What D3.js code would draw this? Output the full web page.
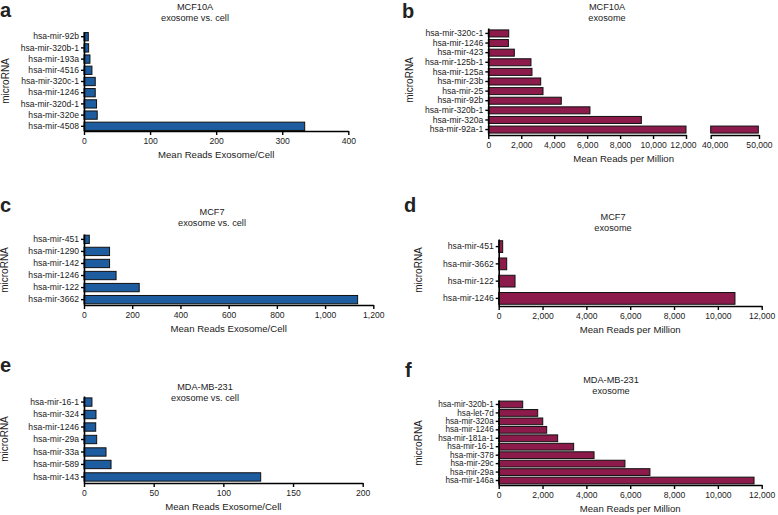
<!DOCTYPE html>
<html>
<head>
<meta charset="utf-8">
<script src="https://cdn.jsdelivr.net/npm/d3@7"></script>
<style>
body { margin: 0; background: #fff; }
text { font-family: "Liberation Sans", Arial, sans-serif; fill: #222; }
</style>
</head>
<body>
<svg id="chart" width="778" height="515"></svg>
<script>
// data, top to bottom as in the figure
var aLabels = ["hsa-mir-92b", "hsa-mir-320b-1", "hsa-mir-193a", "hsa-mir-4516", "hsa-mir-320c-1", "hsa-mir-1246", "hsa-mir-320d-1", "hsa-mir-320e", "hsa-mir-4508"];
var aValues = [6.5, 7, 9, 12, 17, 17, 19, 20, 334];

var bLabels = ["hsa-mir-320c-1", "hsa-mir-1246", "hsa-mir-423", "hsa-mir-125b-1", "hsa-mir-125a", "hsa-mir-23b", "hsa-mir-25", "hsa-mir-92b", "hsa-mir-320b-1", "hsa-mir-320a", "hsa-mir-92a-1"];
var bValues = [1240, 1220, 1580, 2590, 2650, 3180, 3320, 4430, 6170, 9290, 49860];

var cLabels = ["hsa-mir-451", "hsa-mir-1290", "hsa-mir-142", "hsa-mir-1246", "hsa-mir-122", "hsa-mir-3662"];
var cValues = [22, 106, 106, 133, 229, 1135];

var dLabels = ["hsa-mir-451", "hsa-mir-3662", "hsa-mir-122", "hsa-mir-1246"];
var dValues = [182, 365, 745, 10780];

var eLabels = ["hsa-mir-16-1", "hsa-mir-324", "hsa-mir-1246", "hsa-mir-29a", "hsa-mir-33a", "hsa-mir-589", "hsa-mir-143"];
var eValues = [5.7, 8.6, 8.4, 9.1, 15.8, 19.4, 126.8];

var fLabels = ["hsa-mir-320b-1", "hsa-let-7d", "hsa-mir-320a", "hsa-mir-1246", "hsa-mir-181a-1", "hsa-mir-16-1", "hsa-mir-378", "hsa-mir-29c", "hsa-mir-29a", "hsa-mir-146a"];
var fValues = [1095, 1780, 2010, 2190, 2690, 3420, 4350, 5760, 6900, 11650];

var ticks400 = [0, 100, 200, 300, 400];
var ticks1200 = [0, 200, 400, 600, 800, 1000, 1200];
var ticks200 = [0, 50, 100, 150, 200];
var ticks12k = [0, 2000, 4000, 6000, 8000, 10000, 12000];
var ticksHigh = [40000, 50000];

var blue = "#1d5c9f", maroon = "#8c1a4b";
var svg = d3.select("#chart");

function styleAxis(g, fs) {
	g.selectAll(".domain").attr("stroke", "#000").attr("stroke-width", 1.6);
	g.selectAll(".tick line").attr("stroke", "#000").attr("stroke-width", 1.4);
	g.selectAll(".tick text").style("font-size", (fs || 8.6) + "px").attr("fill", "#222");
}

function drawPanel(p) {
	var y = d3.scaleBand().domain(p.labels).range([p.yTop, p.yBot])
		.paddingInner(p.pin).paddingOuter(p.pout);
	var x = d3.scaleLinear().domain([0, p.ticks[p.ticks.length - 1]]).range([p.x0, p.x1]);
	var fmt = p.comma ? d3.format(",") : d3.format("d");

	svg.selectAll(null).data(p.values).enter().append("rect")
		.attr("x", x(0))
		.attr("y", function(d, i) { return y(p.labels[i]); })
		.attr("width", function(d) { return x(Math.min(d, x.domain()[1])) - x(0); })
		.attr("height", y.bandwidth())
		.attr("fill", p.color)
		.attr("stroke", "#111")
		.attr("stroke-width", 1);

	var xa = svg.append("g").attr("transform", "translate(0," + p.yBot + ")")
		.call(d3.axisBottom(x).tickValues(p.ticks).tickFormat(fmt).tickSize(4).tickSizeOuter(0).tickPadding(3));
	styleAxis(xa);

	if (p.high) {
		// broken axis: second segment for the one very large value
		var x2 = d3.scaleLinear().domain([p.high[0], p.high[p.high.length - 1]]).range([p.bx0, p.bx1]);
		svg.selectAll(null).data(p.values.filter(function(d) { return d > p.high[0]; })).enter().append("rect")
			.attr("x", x2(p.high[0]))
			.attr("y", function(d) { return y(p.labels[p.values.indexOf(d)]); })
			.attr("width", function(d) { return x2(d) - x2(p.high[0]); })
			.attr("height", y.bandwidth())
			.attr("fill", p.color)
			.attr("stroke", "#111")
			.attr("stroke-width", 1);
		var xb = svg.append("g").attr("transform", "translate(0," + p.yBot + ")")
			.call(d3.axisBottom(x2).tickValues(p.high).tickFormat(fmt).tickSize(4).tickSizeOuter(0).tickPadding(3));
		styleAxis(xb);
		xa.selectAll(".tick text").filter(function(d) { return d === 12000; }).attr("dx", -3);
		xb.selectAll(".tick text").filter(function(d) { return d === 40000; }).attr("dx", 4);
	}

	var ya = svg.append("g").attr("transform", "translate(" + p.x0 + ",0)")
		.call(d3.axisLeft(y).tickSize(3).tickSizeOuter(0).tickPadding(2));
	styleAxis(ya, p.yfs);

	svg.append("text").attr("x", p.tx).attr("y", p.ty).attr("text-anchor", "middle")
		.style("font-size", "9.2px").text(p.title[0]);
	svg.append("text").attr("x", p.tx).attr("y", p.ty + 10.5).attr("text-anchor", "middle")
		.style("font-size", "9.2px").text(p.title[1]);

	var axisEnd = p.high ? p.bx1 : p.x1;
	svg.append("text").attr("x", (p.x0 + axisEnd) / 2).attr("y", p.yBot + 27).attr("text-anchor", "middle")
		.style("font-size", "9.6px").text(p.xTitle);

	svg.append("text").attr("transform", "translate(" + (p.mx + 3.5) + "," + p.my + ") rotate(-90)")
		.attr("text-anchor", "middle").style("font-size", "10px").text("microRNA");

	svg.append("text").attr("x", p.lx).attr("y", p.ly)
		.style("font-size", "20px").style("font-weight", "bold").attr("fill", "#000").text(p.letter);
}

var panels = [
	{ letter: "a", lx: 0, ly: 17, labels: aLabels, values: aValues, ticks: ticks400, comma: false, color: blue,
		x0: 84, x1: 348.3, yTop: 32, yBot: 131, pin: 0.26, pout: 0.05,
		title: ["MCF10A", "exosome vs. cell"], tx: 195, ty: 10, xTitle: "Mean Reads Exosome/Cell", mx: 5, my: 81 },
	{ letter: "b", lx: 402, ly: 18, labels: bLabels, values: bValues, ticks: ticks12k, comma: true, color: maroon,
		x0: 488.3, x1: 686, high: ticksHigh, bx0: 710.7, bx1: 759, yTop: 28, yBot: 135, pin: 0.27, pout: 0.2,
		title: ["MCF10A", "exosome"], tx: 607, ty: 10, xTitle: "Mean Reads per Million", mx: 409, my: 80 },
	{ letter: "c", lx: 0, ly: 212, labels: cLabels, values: cValues, ticks: ticks1200, comma: true, color: blue,
		x0: 84, x1: 373.3, yTop: 234, yBot: 305, pin: 0.31, pout: 0.1,
		title: ["MCF7", "exosome vs. cell"], tx: 212, ty: 215, xTitle: "Mean Reads Exosome/Cell", mx: 4, my: 270 },
	{ letter: "d", lx: 404, ly: 212, labels: dLabels, values: dValues, ticks: ticks12k, comma: true, color: maroon,
		x0: 498.7, x1: 761.7, yTop: 239, yBot: 306, pin: 0.32, pout: 0.1,
		title: ["MCF7", "exosome"], tx: 613, ty: 220, xTitle: "Mean Reads per Million", mx: 418, my: 270 },
	{ letter: "e", lx: 0, ly: 372, labels: eLabels, values: eValues, ticks: ticks200, comma: false, color: blue,
		x0: 84, x1: 362.7, yTop: 396, yBot: 483, pin: 0.33, pout: 0.15,
		title: ["MDA-MB-231", "exosome vs. cell"], tx: 205, ty: 390, xTitle: "Mean Reads Exosome/Cell", mx: 4, my: 439 },
	{ letter: "f", lx: 405, ly: 377, labels: fLabels, values: fValues, ticks: ticks12k, comma: true, color: maroon,
		x0: 498.7, x1: 761.7, yTop: 400, yBot: 485, pin: 0.2, pout: 0.13, yfs: 8.2,
		title: ["MDA-MB-231", "exosome"], tx: 611, ty: 383, xTitle: "Mean Reads per Million", mx: 418, my: 443 }
];

panels.forEach(drawPanel);
</script>
</body>
</html>
